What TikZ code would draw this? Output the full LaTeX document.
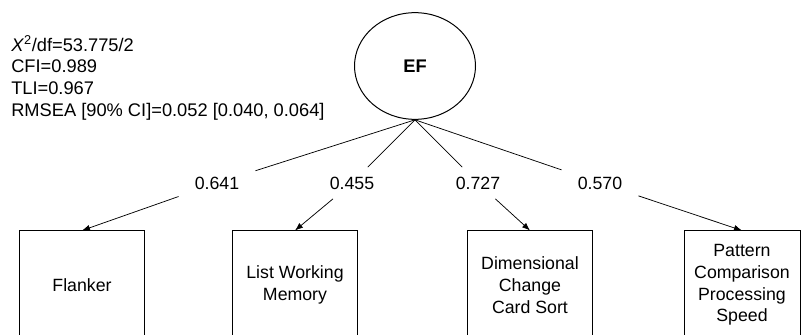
\documentclass[tikz,border=0pt]{standalone}
\usepackage{fontspec}
\setmainfont{Liberation Sans}
\usetikzlibrary{arrows.meta,
                shapes.geometric}

\begin{document}
\begin{tikzpicture}[
x=0.75pt, y=-0.75pt,
font=\fontsize{13.3}{16.3}\selectfont,
every edge/.style = {draw, semithick, black, line width=0.55pt},
         A/.style = {-{Latex[length=6pt,width=4.5pt]}},
         B/.style = {draw, line width=0.75pt, minimum width=93.75pt,
                     minimum height=81pt, align=center, inner sep=0pt},
         L/.style = {fill=white, inner xsep=12pt, inner ysep=7pt}
                    ]
\useasboundingbox (0,0) rectangle (801,335);

\node[anchor=north west, align=left, inner sep=0pt,
      font=\fontsize{13.7}{16.3}\selectfont] (fit) at (11,35)
     {\textit{X}\textsuperscript{2}/df=53.775/2\\
      CFI=0.989\\
      TLI=0.967\\
      RMSEA [90\% CI]=0.052 [0.040, 0.064]};

\node[ellipse, draw, line width=0.75pt, minimum width=90.75pt,
      minimum height=80pt, font=\fontsize{13.7}{16.3}\selectfont\bfseries]
      (ef) at (415,66) {EF};

\node[B] (t1) at (82,285)  {Flanker};
\node[B] (t2) at (295,285) {List Working\\Memory};
\node[B] (t3) at (530,285) {Dimensional\\Change\\Card Sort};
\node[B, minimum width=87pt] (t4) at (742,285) {Pattern\\Comparison\\Processing\\Speed};

\node[L] (l1) at (217,183) {0.641};
\node[L] (l2) at (352,183) {0.455};
\node[L] (l3) at (478,183) {0.727};
\node[L] (l4) at (600,183) {0.570};

\draw   (ef.south) edge (l1)
        (ef.south) edge (l2)
        (ef.south) edge (l3)
        (ef.south) edge (l4)
        (l1) edge [A] (t1.north)
        (l2) edge [A] (t2.north)
        (l3) edge [A] (t3.north)
        (l4) edge [A] (t4.north);
\end{tikzpicture}
\end{document}
